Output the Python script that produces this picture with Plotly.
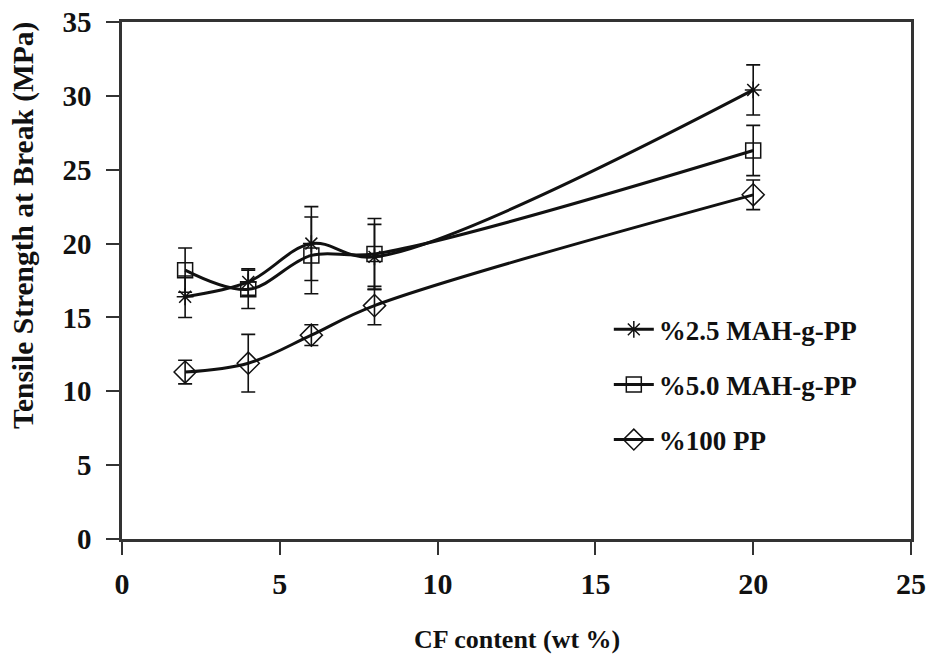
import plotly.graph_objects as go

cf_content = [2, 4, 6, 8, 20]

mah25_values = [16.4, 17.4, 20.0, 19.1, 30.4]
mah25_errors = [1.4, 0.9, 2.5, 2.2, 1.7]

mah50_values = [18.2, 16.9, 19.2, 19.3, 26.3]
mah50_errors = [1.5, 1.3, 2.6, 2.4, 1.7]

pp_values = [11.3, 11.9, 13.8, 15.8, 23.3]
pp_errors = [0.8, 1.95, 0.7, 1.3, 1.0]

series_names = ["%2.5 MAH-g-PP", "%5.0 MAH-g-PP", "%100 PP"]
x_ticks = [0, 5, 10, 15, 20, 25]
y_ticks = [0, 5, 10, 15, 20, 25, 30, 35]
x_title = "CF content (wt %)"
y_title = "Tensile Strength at Break (MPa)"

FONT = "Liberation Serif"
INK = "#111111"

fig = go.Figure()

specs = [
    (series_names[0], mah25_values, mah25_errors, "asterisk-open", 14),
    (series_names[1], mah50_values, mah50_errors, "square-open", 15),
    (series_names[2], pp_values, pp_errors, "diamond-open", 17),
]

for i, (name, vals, errs, sym, size) in enumerate(specs):
    fig.add_trace(go.Scatter(
        x=cf_content, y=vals, name=name, mode="lines+markers",
        legendgroup=f"g{i}",
        line=dict(color=INK, width=3, shape="spline", smoothing=1.0),
        marker=dict(symbol=sym, size=size, color=INK,
                    line=dict(color=INK, width=1.5)),
        error_y=dict(type="data", array=errs, visible=True,
                     color=INK, thickness=1.6, width=7),
    ))

fig.update_layout(
    width=935, height=663,
    margin=dict(l=121.5, r=23.5, t=22, b=124, autoexpand=False),
    paper_bgcolor="white", plot_bgcolor="white",
    font=dict(family=FONT, color=INK, size=20, weight="bold"),
    showlegend=True,
    legend=dict(
        x=0.617, y=0.452, xanchor="left", yanchor="top",
        bgcolor="rgba(0,0,0,0)", borderwidth=0,
        font=dict(family=FONT, size=27, color=INK, weight="bold"),
        tracegroupgap=17, itemwidth=40,
    ),
    annotations=[
        dict(text=x_title, xref="paper", yref="paper", x=0.5, y=-0.195,
             xanchor="center", yanchor="middle", showarrow=False,
             font=dict(family=FONT, size=26, color=INK, weight="bold")),
        dict(text=y_title, xref="paper", yref="paper", x=-0.1256, y=0.607,
             xanchor="center", yanchor="middle", showarrow=False,
             textangle=-90,
             font=dict(family=FONT, size=29.5, color=INK, weight="bold")),
    ],
)

fig.update_xaxes(
    range=[0, 25], tickvals=x_ticks, ticks="outside", ticklen=13,
    tickwidth=1.6, tickcolor="#333", showline=True, linecolor="#333",
    linewidth=2.5, mirror=True, showgrid=False, zeroline=False,
    tickfont=dict(family=FONT, size=30, color=INK, weight="bold"),
    ticklabelstandoff=3, ticklabeloverflow="allow", automargin=False,
)
fig.update_yaxes(
    range=[0, 35], tickvals=y_ticks, ticks="outside", ticklen=13,
    tickwidth=1.6, tickcolor="#333", showline=True, linecolor="#333",
    linewidth=2.5, mirror=True, showgrid=False, zeroline=False,
    tickfont=dict(family=FONT, size=29, color=INK, weight="bold"),
    ticklabelstandoff=9, ticklabeloverflow="allow", automargin=False,
)

fig.write_html("out.html",
               config={"displayModeBar": False},
               post_script="document.body.style.margin='0';")
